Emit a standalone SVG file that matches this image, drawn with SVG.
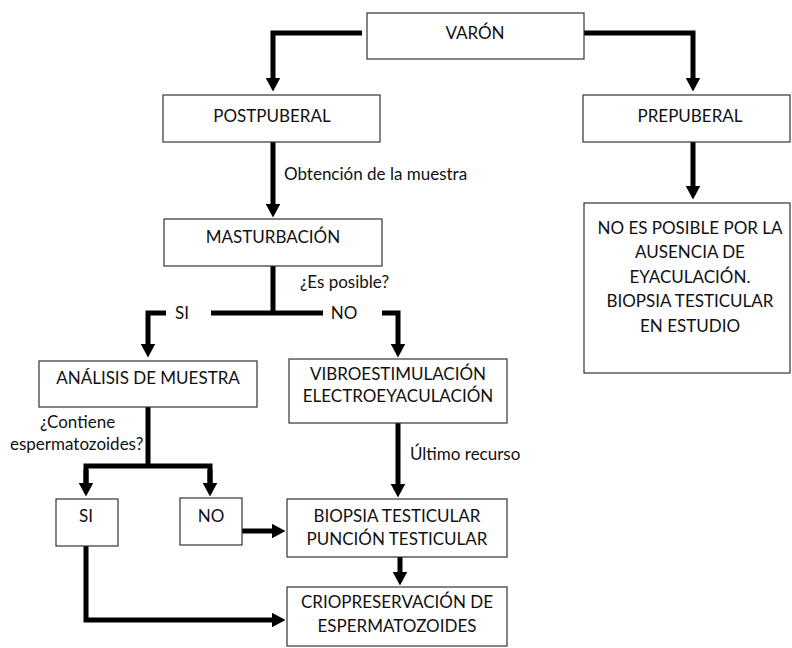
<svg xmlns="http://www.w3.org/2000/svg" width="792" height="648" viewBox="0 0 792 648">
<defs>
<style>
.box{fill:#fff;stroke:#333;stroke-width:1.2}
.t{font-family:Lato,"Liberation Sans",sans-serif;font-size:17px;fill:#111;text-anchor:middle}
.l{font-family:Lato,"Liberation Sans",sans-serif;font-size:17px;fill:#111}
.c{fill:none;stroke:#000;stroke-width:5;stroke-linejoin:miter}
</style>
<marker id="ah" viewBox="0 0 14 15" refX="0.5" refY="7.5" markerWidth="14" markerHeight="15" markerUnits="userSpaceOnUse" orient="auto">
<path d="M0,0 L14,7.5 L0,15 Z" fill="#000"/>
</marker>
</defs>
<rect width="792" height="648" fill="#fff"/>
<g id="connectors">
<path class="c" d="M362,33 H273 V78" marker-end="url(#ah)"/>
<path class="c" d="M584,33 H693 V78" marker-end="url(#ah)"/>
<path class="c" d="M273,142 V204" marker-end="url(#ah)"/>
<path class="c" d="M693,142 V186" marker-end="url(#ah)"/>
<path class="c" d="M273,266 V313"/>
<path class="c" d="M211,313 H323"/>
<path class="c" d="M166,313 H148 V344" marker-end="url(#ah)"/>
<path class="c" d="M382,313 H398 V344" marker-end="url(#ah)"/>
<path class="c" d="M148,407 V466"/>
<path class="c" d="M86,483 V466 H210 V483"/>
<path class="c" d="M86,470 V483" marker-end="url(#ah)"/>
<path class="c" d="M210,470 V483" marker-end="url(#ah)"/>
<path class="c" d="M398,423 V484" marker-end="url(#ah)"/>
<path class="c" d="M242,531 H272" marker-end="url(#ah)"/>
<path class="c" d="M400,557 V572" marker-end="url(#ah)"/>
<path class="c" d="M86,546 V620 H272" marker-end="url(#ah)"/>
</g>
<g id="varon"><rect class="box" x="367" y="13" width="217" height="46"/><text class="t" x="475" y="39">VARÓN</text></g>
<g id="postpuberal"><rect class="box" x="163" y="95" width="217" height="47"/><text class="t" x="272" y="122">POSTPUBERAL</text></g>
<g id="prepuberal"><rect class="box" x="583" y="95" width="207" height="47"/><text class="t" x="690" y="122">PREPUBERAL</text></g>
<g id="masturbacion"><rect class="box" x="164" y="219" width="218" height="47"/><text class="t" x="273" y="243">MASTURBACIÓN</text></g>
<g id="no-posible"><rect class="box" x="584" y="203" width="206" height="170"/>
<text class="t" x="690" y="234">NO ES POSIBLE POR LA</text>
<text class="t" x="690" y="258">AUSENCIA DE</text>
<text class="t" x="690" y="283">EYACULACIÓN.</text>
<text class="t" x="690" y="307">BIOPSIA TESTICULAR</text>
<text class="t" x="690" y="332">EN ESTUDIO</text></g>
<g id="analisis"><rect class="box" x="39" y="361" width="218" height="46"/><text class="t" x="148" y="384">ANÁLISIS DE MUESTRA</text></g>
<g id="vibro"><rect class="box" x="289" y="359" width="218" height="64"/>
<text class="t" x="398" y="380">VIBROESTIMULACIÓN</text>
<text class="t" x="398" y="402">ELECTROEYACULACIÓN</text></g>
<g id="si"><rect class="box" x="56" y="499" width="62" height="47"/><text class="t" x="86" y="522">SI</text></g>
<g id="no"><rect class="box" x="180" y="498" width="62" height="47"/><text class="t" x="211" y="522">NO</text></g>
<g id="biopsia"><rect class="box" x="287" y="499" width="220" height="58"/>
<text class="t" x="397" y="522">BIOPSIA TESTICULAR</text>
<text class="t" x="397" y="545">PUNCIÓN TESTICULAR</text></g>
<g id="crio"><rect class="box" x="287" y="587" width="220" height="59"/>
<text class="t" x="397" y="608">CRIOPRESERVACIÓN DE</text>
<text class="t" x="397" y="632">ESPERMATOZOIDES</text></g>
<g id="labels">
<text class="l" x="284" y="180">Obtención de la muestra</text>
<text class="l" x="300" y="288">¿Es posible?</text>
<text class="t" x="182" y="319">SI</text>
<text class="t" x="344" y="319">NO</text>
<text class="l" x="40" y="428">¿Contiene</text>
<text class="l" x="10" y="450">espermatozoides?</text>
<text class="l" x="410" y="460">Último recurso</text>
</g>
</svg>
